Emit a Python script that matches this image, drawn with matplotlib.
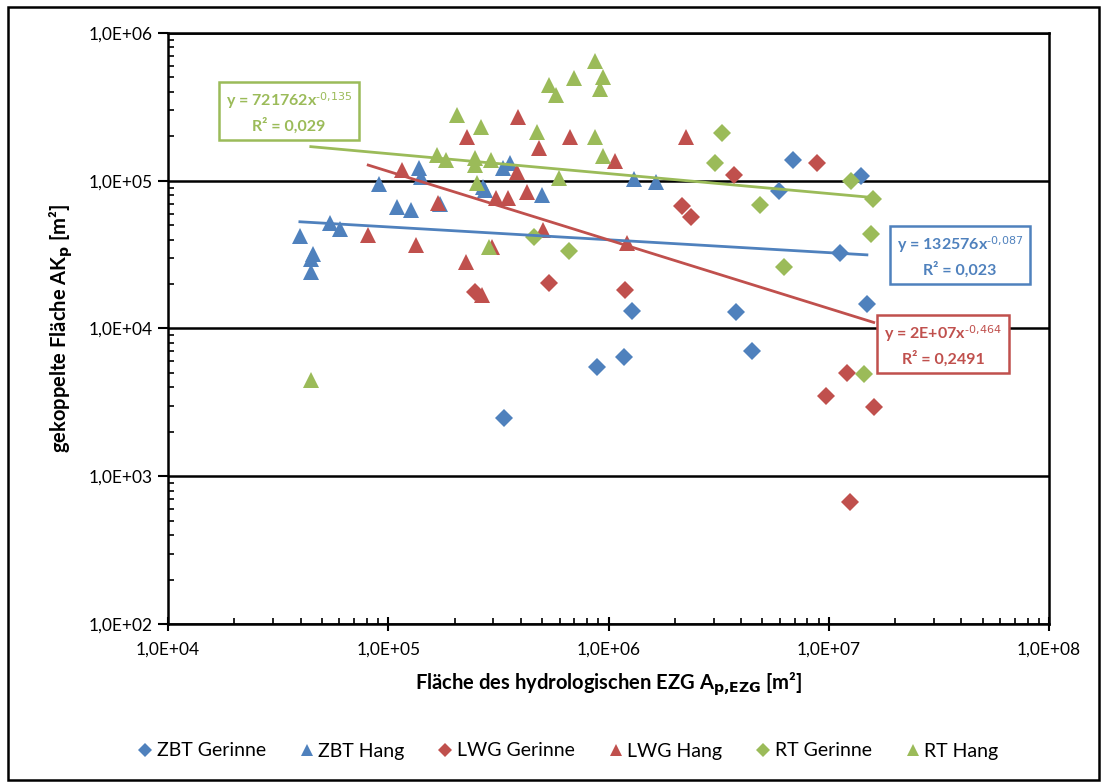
import numpy as np
import matplotlib
matplotlib.use("Agg")
import matplotlib.pyplot as plt
from matplotlib.ticker import FixedLocator, FuncFormatter, LogLocator, NullFormatter
from matplotlib.patches import Rectangle
from matplotlib.lines import Line2D

plt.rcParams['font.family'] = ['Lato', 'DejaVu Sans']
plt.rcParams['mathtext.default'] = 'regular'

# ---------------- data ----------------
zbt_gerinne_x = [335e3, 887e3, 1.17e6, 1.28e6, 3.80e6, 4.47e6, 5.96e6, 6.86e6, 11.2e6, 14.0e6, 14.9e6]
zbt_gerinne_y = [2.49e3, 5.51e3, 6.44e3, 13.2e3, 12.9e3, 7.08e3, 85.8e3, 138e3, 32.6e3, 108e3, 14.7e3]

zbt_hang_x = [39.7e3, 45.5e3, 44.5e3, 44.8e3, 54.4e3, 60.4e3, 90.8e3, 109.7e3, 126.8e3, 137.9e3,
              141e3, 171.8e3, 269e3, 275e3, 332e3, 357e3, 499e3, 1.31e6, 1.64e6]
zbt_hang_y = [42.3e3, 31.9e3, 29.5e3, 24.1e3, 51.7e3, 47.1e3, 95e3, 66.4e3, 63.4e3, 122e3,
              106e3, 69.7e3, 90.8e3, 86e3, 122e3, 132e3, 80.2e3, 103e3, 98e3]

lwg_gerinne_x = [248e3, 535e3, 1.19e6, 2.15e6, 2.36e6, 3.72e6, 8.81e6, 12.1e6, 9.72e6, 16.0e6, 12.5e6]
lwg_gerinne_y = [17.7e3, 20.2e3, 18.2e3, 67.4e3, 56.6e3, 109e3, 131e3, 5.02e3, 3.49e3, 2.93e3, 670]

lwg_hang_x = [81.1e3, 115e3, 133.6e3, 168.6e3, 227e3, 225e3, 266e3, 297e3, 310e3, 351e3,
              389e3, 383e3, 425e3, 485e3, 506e3, 668e3, 1.07e6, 1.21e6, 2.25e6]
lwg_hang_y = [42.9e3, 118e3, 36.7e3, 70.3e3, 199e3, 28.3e3, 16.9e3, 35.8e3, 76e3, 76e3,
              271e3, 115e3, 84.3e3, 166e3, 46.4e3, 199e3, 135e3, 37.8e3, 199e3]

rt_gerinne_x = [459e3, 664e3, 3.29e6, 3.06e6, 4.88e6, 6.26e6, 12.6e6, 15.8e6, 15.5e6, 14.4e6]
rt_gerinne_y = [41.8e3, 33.5e3, 211e3, 132e3, 68.5e3, 26.2e3, 100e3, 74.8e3, 43.7e3, 4.92e3]

rt_hang_x = [44.5e3, 206e3, 265e3, 166e3, 183e3, 248e3, 248e3, 292e3, 252e3, 475e3,
             538e3, 577e3, 697e3, 871e3, 941e3, 914e3, 869e3, 941e3, 598e3, 286e3]
rt_hang_y = [4.48e3, 278e3, 232e3, 149e3, 138e3, 142e3, 128e3, 138e3, 97e3, 215e3,
             445e3, 380e3, 498e3, 649e3, 506e3, 416e3, 199e3, 147e3, 104e3, 35.8e3]

# power trendlines y = a * x^b
trend_names = ["ZBT", "LWG", "RT"]
trend_a = [132576, 2.42e7, 721762]
trend_b = [-0.087, -0.464, -0.135]
trend_labels = [r"y = 132576x$^{\text{-0,087}}$" + "\nR² = 0,023",
                r"y = 2E+07x$^{\text{-0,464}}$" + "\nR² = 0,2491",
                r"y = 721762x$^{\text{-0,135}}$" + "\nR² = 0,029"]

legend_labels = ["ZBT Gerinne", "ZBT Hang", "LWG Gerinne", "LWG Hang", "RT Gerinne", "RT Hang"]

BLUE = "#4F81BD"
RED = "#C0504D"
GREEN = "#9BBB59"

# ---------------- figure ----------------
fig = plt.figure(figsize=(11.05, 7.83), dpi=100)
ax = fig.add_axes([168/1105, 1-624/783, (1049-168)/1105, (624-33)/783])

series = [
    (zbt_gerinne_x, zbt_gerinne_y, BLUE, 'D', 9.5),
    (zbt_hang_x, zbt_hang_y, BLUE, '^', 11),
    (lwg_gerinne_x, lwg_gerinne_y, RED, 'D', 9.5),
    (lwg_hang_x, lwg_hang_y, RED, '^', 11),
    (rt_gerinne_x, rt_gerinne_y, GREEN, 'D', 9.5),
    (rt_hang_x, rt_hang_y, GREEN, '^', 11),
]
handles = []
for (xs, ys, c, m, ms), lab in zip(series, legend_labels):
    ax.plot(xs, ys, linestyle='none', marker=m, markersize=ms, color=c,
            markeredgewidth=0, zorder=3)
    handles.append(Line2D([], [], linestyle='none', marker=m,
                          markersize=7.5 if m == 'D' else 8.5,
                          color=c, markeredgewidth=0, label=lab))

# trendlines
groups = [(zbt_gerinne_x + zbt_hang_x, BLUE),
          (lwg_gerinne_x + lwg_hang_x, RED),
          (rt_gerinne_x + rt_hang_x, GREEN)]
for (gx, c), a, b in zip(groups, trend_a, trend_b):
    xx = np.logspace(np.log10(min(gx)), np.log10(max(gx)), 50)
    ax.plot(xx, a * xx ** b, color=c, lw=2, zorder=4)

ax.set_xscale('log')
ax.set_yscale('log')
ax.set_xlim(1e4, 1e8)
ax.set_ylim(1e2, 1e6)

fmt = FuncFormatter(lambda v, p: "1,0E+%02d" % int(round(np.log10(v))))
ax.xaxis.set_major_locator(FixedLocator([1e4, 1e5, 1e6, 1e7, 1e8]))
ax.yaxis.set_major_locator(FixedLocator([1e2, 1e3, 1e4, 1e5, 1e6]))
ax.xaxis.set_major_formatter(fmt)
ax.yaxis.set_major_formatter(fmt)
ax.xaxis.set_minor_locator(LogLocator(base=10, subs=np.arange(2, 10), numticks=20))
ax.yaxis.set_minor_locator(LogLocator(base=10, subs=np.arange(2, 10), numticks=20))
ax.xaxis.set_minor_formatter(NullFormatter())
ax.yaxis.set_minor_formatter(NullFormatter())

ax.tick_params(axis='x', which='major', direction='inout', length=10, width=1.5, labelsize=12.5, pad=8)
ax.tick_params(axis='y', which='major', direction='out', length=7, width=1.5, labelsize=12.5, pad=4)
ax.tick_params(which='minor', direction='in', length=4, width=1.2)

ax.grid(True, axis='y', which='major', color='black', lw=1.8, zorder=1)
for s in ax.spines.values():
    s.set_linewidth(1.8)

ax.set_xlabel(r"Fläche des hydrologischen EZG A$_{\mathbf{p{,}EZG}}$ [m²]", fontsize=14.5,
              fontweight='bold', labelpad=9)
ax.set_ylabel(r"gekoppelte Fläche AK$_{\mathbf{p}}$ [m²]", fontsize=14.5, fontweight='bold',
              labelpad=10)

# trendline labels
label_pos = [(960, 256), (943, 345), (289, 112)]
for (px, py), txt, c in zip(label_pos, trend_labels, [BLUE, RED, GREEN]):
    fig.text(px/1105, 1-py/783, txt, color=c, fontsize=11.5, fontweight='bold',
             ha='center', va='center', linespacing=1.45,
             bbox=dict(boxstyle='square,pad=0.42', fc='white', ec=c, lw=1.8), zorder=6)

fig.legend(handles=handles, loc='center', bbox_to_anchor=(0.513, 1-751/783), ncol=6,
           frameon=False, fontsize=14, handletextpad=0.1, columnspacing=1.6,
           handlelength=1.0)

fig.patches.append(Rectangle((8/1105, 3/783), (1099-8)/1105, (776-3)/783,
                             transform=fig.transFigure, fill=False, ec='black', lw=1.8))

fig.savefig("out.png", dpi=100)
